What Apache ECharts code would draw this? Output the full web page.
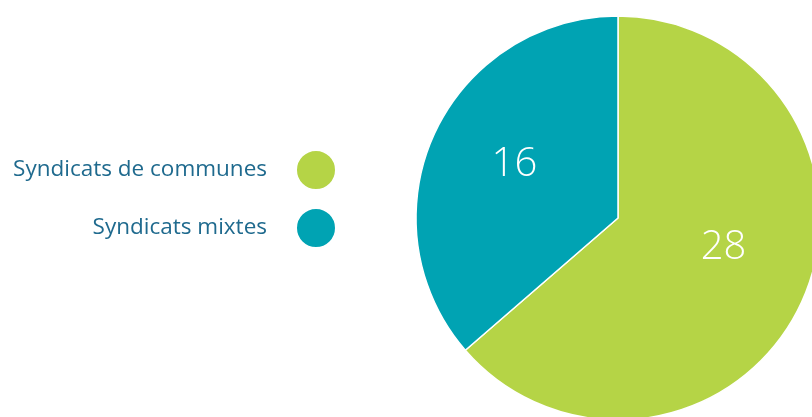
<!DOCTYPE html>
<html>
<head>
<meta charset="utf-8">
<title>Syndicats</title>
<script src="https://cdn.jsdelivr.net/npm/echarts@6/dist/echarts.min.js"></script>
<style>
    html, body { margin: 0; padding: 0; background: #fff; }
    #chart { width: 812px; height: 417px; }
</style>
</head>
<body>
<div id="chart"></div>
<script>
// Data
const categories = ['Syndicats de communes', 'Syndicats mixtes'];
const values = [28, 16];
const colors = ['#b5d446', '#00a3b3'];
// label nudges so the numbers sit where they do in the print
const labelOffsets = [[11, -14], [-9, -10]];

const chart = echarts.init(document.getElementById('chart'));

const pieData = categories.map((name, i) => ({
    name: name,
    value: values[i],
    itemStyle: { color: colors[i] },
    label: { offset: labelOffsets[i] }
}));

chart.setOption({
    animation: false,
    legend: {
        orient: 'vertical',
        align: 'right',
        right: 475,
        top: 149,
        padding: 0,
        itemWidth: 40,
        itemHeight: 40,
        itemGap: 16,
        icon: 'circle',
        selectedMode: false,
        textStyle: {
            color: '#1f6a8e',
            fontSize: 22.5,
            fontFamily: 'Open Sans',
            padding: [0, 24, 0, 0]
        },
        data: categories
    },
    series: [{
        type: 'pie',
        center: [618, 218],
        radius: 202,
        startAngle: 90,
        clockwise: true,
        silent: true,
        itemStyle: { borderColor: '#ffffff', borderWidth: 1.5 },
        label: {
            show: true,
            position: 'inside',
            formatter: '{c}',
            color: '#ffffff',
            fontSize: 40,
            fontWeight: 300,
            fontFamily: 'Open Sans'
        },
        labelLine: { show: false },
        data: pieData
    }]
});
</script>
</body>
</html>
